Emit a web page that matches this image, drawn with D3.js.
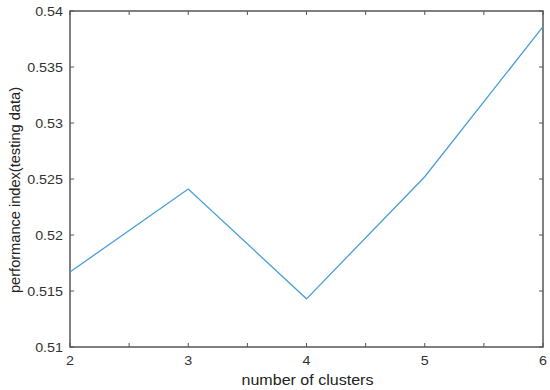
<!DOCTYPE html>
<html><head><meta charset="utf-8">
<script src="https://cdn.jsdelivr.net/npm/d3@7"></script>
<style>body{margin:0;background:#fff}text{font-family:"Liberation Sans",Arial,sans-serif}</style>
</head><body><svg id="c" width="550" height="390"></svg>
<script>
const clusters = [2, 3, 4, 5, 6];
const performance = [0.5167, 0.5241, 0.5143, 0.5252, 0.5386];
const xTicks = [2, 3, 4, 5, 6];
const xMinorTicks = [2.5, 3.5, 4.5, 5.5];
const yTicks = [0.51, 0.515, 0.52, 0.525, 0.53, 0.535, 0.54];

const svg = d3.select("#c");
const L = 70, R = 543, T = 11, B = 347;
const x = d3.scaleLinear().domain([2, 6]).range([L, R]);
const y = d3.scaleLinear().domain([0.51, 0.54]).range([B, T]);
const axisColor = "#555";
const fmtY = d => String(+d.toFixed(3));
const stretch = sel => sel.each(function () {
  const w = this.getComputedTextLength();
  d3.select(this).attr("textLength", w * 1.1).attr("lengthAdjust", "spacingAndGlyphs");
});

svg.append("rect").attr("x", L).attr("y", T).attr("width", R - L).attr("height", B - T)
  .attr("fill", "none").attr("stroke", axisColor).attr("stroke-width", 1.5);

const allX = xTicks.concat(xMinorTicks);
const tk = 4;
svg.append("g").selectAll("line").data(allX).join("line")
  .attr("x1", d => x(d)).attr("x2", d => x(d)).attr("y1", B).attr("y2", B - tk)
  .attr("stroke", axisColor);
svg.append("g").selectAll("line").data(allX).join("line")
  .attr("x1", d => x(d)).attr("x2", d => x(d)).attr("y1", T).attr("y2", T + tk)
  .attr("stroke", axisColor);
svg.append("g").selectAll("line").data(yTicks).join("line")
  .attr("x1", L).attr("x2", L + tk).attr("y1", d => y(d)).attr("y2", d => y(d))
  .attr("stroke", axisColor);
svg.append("g").selectAll("line").data(yTicks).join("line")
  .attr("x1", R).attr("x2", R - tk).attr("y1", d => y(d)).attr("y2", d => y(d))
  .attr("stroke", axisColor);

svg.append("g").selectAll("text").data(xTicks).join("text")
  .attr("x", d => x(d)).attr("y", B + 18).attr("text-anchor", "middle")
  .attr("font-size", 13).attr("fill", "#333").text(d => d).call(stretch);
svg.append("g").selectAll("text").data(yTicks).join("text")
  .attr("x", L - 7).attr("y", d => y(d) + 4.7).attr("text-anchor", "end")
  .attr("font-size", 13).attr("fill", "#333").text(fmtY).call(stretch);

svg.append("text").attr("x", (L + R) / 2 + 1).attr("y", 385).attr("text-anchor", "middle")
  .attr("font-size", 14).attr("fill", "#222").text("number of clusters")
  .attr("textLength", 132).attr("lengthAdjust", "spacingAndGlyphs");
svg.append("text").attr("transform", `translate(20,190) rotate(-90)`)
  .attr("text-anchor", "middle").attr("font-size", 14).attr("fill", "#222")
  .text("performance index(testing data)")
  .attr("textLength", 206).attr("lengthAdjust", "spacingAndGlyphs");

const line = d3.line().x((d, i) => x(clusters[i])).y(d => y(d));
svg.append("path").datum(performance).attr("d", line)
  .attr("fill", "none").attr("stroke", "#4a9ed6").attr("stroke-width", 1.3);
</script></body></html>
